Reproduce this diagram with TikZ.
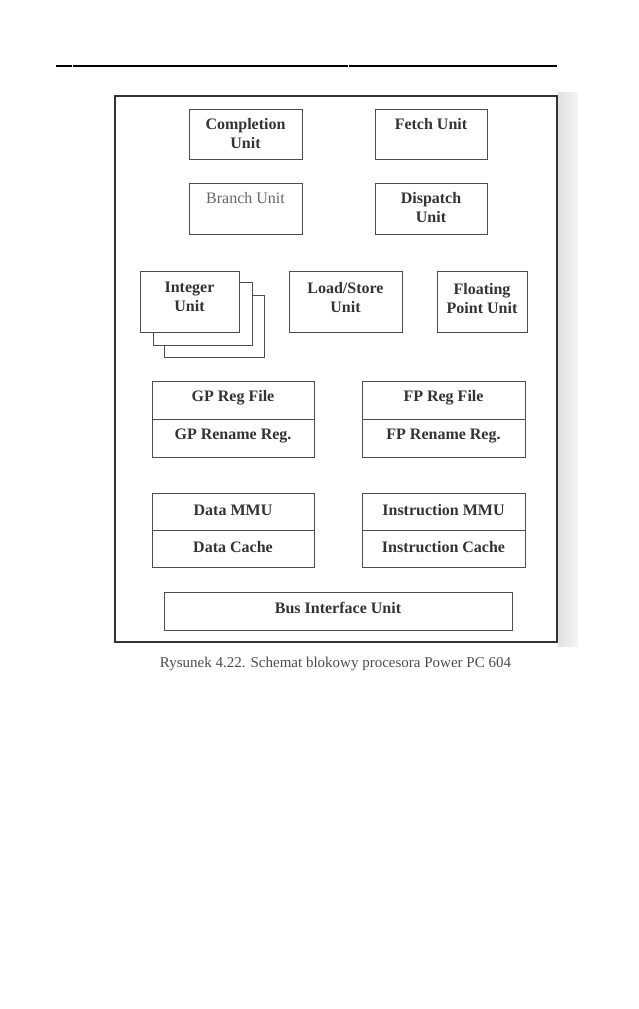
\documentclass[tikz,border=0pt]{standalone}
\usepackage{fontspec}
\setmainfont{Liberation Serif}
\begin{document}
\begin{tikzpicture}[x=1pt,y=-1pt,
  box/.style={draw=black!70, line width=0.9pt, rectangle, inner sep=0pt},
  lbl/.style={font=\fontsize{16}{19}\selectfont\bfseries, text=black!80, align=center, inner sep=0pt},
  frame/.style={draw=black!80, line width=1.8pt}]
\useasboundingbox (0,0) rectangle (638,1009);
% top rule
\draw[line width=1.2pt] (56,66) -- (72,66);
\draw[line width=1.2pt] (73,66) -- (348,66);
\draw[line width=1.2pt] (349,66) -- (557,66);
% scan shadow on right
\shade[left color=black!12, right color=black!4] (558,92) rectangle (578,646);
% outer frame
\draw[frame] (115,96) rectangle (557,642);
% top boxes
\draw[box] (189,109) rectangle (302,159);
\node[lbl, anchor=north] (comp) at (245.5,118) {Completion\\Unit};
\draw[box] (375,109) rectangle (487,159);
\node[lbl, anchor=north] (fetch) at (431,118) {Fetch Unit};
\draw[box] (189,183) rectangle (302,234);
\node[lbl, anchor=north, font=\fontsize{16}{19}\selectfont, text=black!60] (branch) at (245.5,192) {Branch Unit};
\draw[box] (375,183) rectangle (487,234);
\node[lbl, anchor=north] (disp) at (431,192) {Dispatch\\Unit};
% integer unit stack
\draw[box] (164,295) rectangle (264,357);
\draw[box, fill=white] (153,282) rectangle (252,345);
\draw[box, fill=white] (140,271) rectangle (239,332);
\node[lbl, anchor=north] (int) at (189.5,282) {Integer\\Unit};
\draw[box] (289,271) rectangle (402,332);
\node[lbl, anchor=north] (ls) at (345.5,282) {Load/Store\\Unit};
\draw[box] (437,271) rectangle (527,332);
\node[lbl, anchor=north] (fpu) at (482,283) {Floating\\Point Unit};
% register files
\draw[box] (152,381) rectangle (314,457);
\draw[box] (152,419) -- (314,419);
\node[lbl] (gpreg) at (233,398) {GP Reg File};
\node[lbl] (gpren) at (233,436) {GP Rename Reg.};
\draw[box] (362,381) rectangle (525,457);
\draw[box] (362,419) -- (525,419);
\node[lbl] (fpreg) at (443.5,398) {FP Reg File};
\node[lbl] (fpren) at (443.5,436) {FP Rename Reg.};
% MMU / cache
\draw[box] (152,493) rectangle (314,567);
\draw[box] (152,530) -- (314,530);
\node[lbl] (dmmu) at (233,510) {Data MMU};
\node[lbl] (dcache) at (233,547) {Data Cache};
\draw[box] (362,493) rectangle (525,567);
\draw[box] (362,530) -- (525,530);
\node[lbl] (immu) at (443.5,510) {Instruction MMU};
\node[lbl] (icache) at (443.5,547) {Instruction Cache};
% bus interface
\draw[box] (164,592) rectangle (512,630);
\node[lbl] (bus) at (338,608) {Bus Interface Unit};
% caption
\node[anchor=base, inner sep=0pt, font=\fontsize{15}{18}\selectfont, text=black!70] (cap) at (335.5,667) {Rysunek 4.22. Schemat blokowy procesora Power PC 604};
\end{tikzpicture}
\end{document}
